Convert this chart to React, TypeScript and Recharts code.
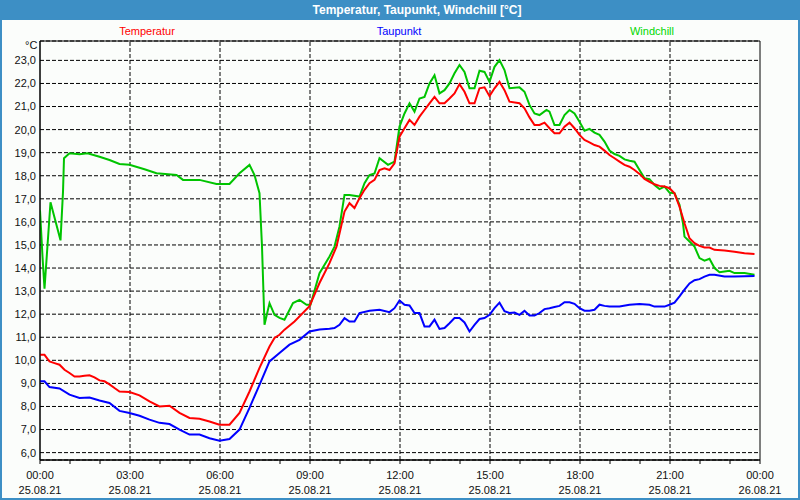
import React from 'react';
import { LineChart, Line, XAxis, YAxis, CartesianGrid, ReferenceLine, ReferenceArea } from 'recharts';

// time in minutes since 25.08.21 00:00
const tempTimes = [0, 9, 19, 29, 39, 49, 59, 69, 79, 89, 99, 109, 119, 129, 139, 149, 159, 179, 199, 219, 239, 259, 279, 299, 319, 339, 359, 379, 399, 419, 439, 459, 469, 479, 489, 509, 539, 559, 579, 593, 603, 609, 619, 629, 639, 649, 659, 669, 679, 689, 699, 709, 719, 729, 739, 749, 759, 769, 779, 789, 799, 809, 819, 829, 839, 849, 859, 869, 879, 889, 899, 909, 919, 929, 939, 959, 969, 979, 989, 999, 1009, 1019, 1029, 1039, 1049, 1059, 1069, 1079, 1089, 1099, 1109, 1119, 1129, 1139, 1149, 1159, 1169, 1179, 1189, 1199, 1209, 1219, 1229, 1239, 1249, 1259, 1269, 1279, 1289, 1299, 1309, 1319, 1329, 1339, 1349, 1369, 1389, 1409, 1429];
const tempValues = [10.24, 10.24, 9.95, 9.88, 9.81, 9.59, 9.45, 9.3, 9.3, 9.33, 9.35, 9.26, 9.13, 9.09, 8.96, 8.8, 8.65, 8.63, 8.48, 8.22, 8.0, 8.03, 7.72, 7.5, 7.47, 7.35, 7.21, 7.21, 7.72, 8.65, 9.67, 10.6, 10.97, 11.11, 11.33, 11.68, 12.35, 13.35, 14.21, 14.93, 15.87, 16.45, 16.81, 16.6, 17.03, 17.39, 17.68, 17.82, 18.25, 18.32, 18.25, 18.54, 19.69, 20.06, 20.42, 20.2, 20.56, 20.85, 21.14, 21.42, 21.14, 21.14, 21.35, 21.57, 21.97, 21.64, 21.14, 21.14, 21.79, 21.83, 21.45, 21.79, 22.07, 21.71, 21.21, 21.14, 20.92, 20.53, 20.2, 20.2, 20.3, 20.06, 19.84, 19.84, 20.13, 20.3, 20.06, 19.77, 19.55, 19.45, 19.33, 19.26, 19.09, 18.9, 18.76, 18.61, 18.47, 18.39, 18.25, 18.08, 17.86, 17.74, 17.63, 17.56, 17.53, 17.46, 17.24, 16.66, 15.94, 15.29, 15.08, 14.96, 14.89, 14.89, 14.79, 14.76, 14.71, 14.64, 14.61];

const dewTimes = [0, 9, 19, 39, 59, 79, 99, 119, 139, 159, 179, 199, 219, 239, 259, 279, 299, 319, 339, 359, 379, 399, 419, 439, 459, 479, 499, 519, 539, 559, 579, 589, 599, 609, 619, 629, 639, 659, 679, 699, 709, 719, 729, 739, 749, 759, 769, 779, 789, 799, 809, 819, 829, 839, 849, 859, 869, 879, 889, 899, 909, 919, 929, 939, 949, 959, 969, 979, 989, 999, 1009, 1019, 1029, 1039, 1049, 1059, 1069, 1079, 1089, 1099, 1109, 1119, 1129, 1139, 1159, 1179, 1199, 1219, 1229, 1249, 1259, 1269, 1279, 1289, 1299, 1309, 1319, 1329, 1339, 1349, 1369, 1389, 1429];
const dewValues = [9.09, 9.09, 8.84, 8.78, 8.51, 8.37, 8.39, 8.26, 8.15, 7.81, 7.72, 7.6, 7.43, 7.29, 7.24, 7.0, 6.78, 6.78, 6.62, 6.52, 6.59, 7.0, 7.94, 8.94, 9.95, 10.32, 10.68, 10.89, 11.25, 11.34, 11.37, 11.4, 11.54, 11.83, 11.68, 11.68, 12.05, 12.15, 12.19, 12.09, 12.26, 12.59, 12.41, 12.38, 12.05, 12.05, 11.47, 11.47, 11.76, 11.36, 11.4, 11.61, 11.83, 11.83, 11.64, 11.25, 11.54, 11.79, 11.83, 11.97, 12.26, 12.5, 12.13, 12.05, 12.07, 11.97, 12.15, 11.94, 11.94, 12.05, 12.22, 12.26, 12.31, 12.36, 12.52, 12.52, 12.45, 12.26, 12.15, 12.15, 12.19, 12.41, 12.36, 12.33, 12.33, 12.41, 12.44, 12.41, 12.33, 12.33, 12.41, 12.5, 12.77, 13.06, 13.33, 13.47, 13.52, 13.63, 13.71, 13.71, 13.63, 13.63, 13.66];

const chillTimes = [0, 5, 9, 21, 41, 46, 48, 59, 79, 95, 119, 139, 159, 179, 209, 233, 273, 286, 319, 353, 379, 399, 419, 429, 439, 444, 449, 459, 469, 479, 489, 506, 519, 533, 541, 559, 579, 589, 599, 609, 619, 639, 649, 659, 669, 679, 696, 709, 719, 729, 739, 749, 759, 769, 779, 789, 799, 809, 819, 829, 839, 849, 859, 869, 879, 889, 899, 909, 919, 929, 939, 959, 969, 979, 989, 999, 1013, 1019, 1029, 1039, 1049, 1059, 1069, 1079, 1089, 1099, 1109, 1119, 1129, 1139, 1149, 1159, 1169, 1179, 1189, 1199, 1209, 1219, 1229, 1239, 1249, 1259, 1269, 1279, 1286, 1289, 1299, 1309, 1319, 1329, 1339, 1349, 1359, 1369, 1379, 1389, 1409, 1429];
const chillValues = [16.5, 14.5, 13.1, 16.85, 15.2, 17.3, 18.76, 18.97, 18.93, 18.97, 18.82, 18.68, 18.51, 18.48, 18.28, 18.11, 18.03, 17.82, 17.82, 17.64, 17.64, 18.11, 18.47, 18.03, 17.24, 14.93, 11.54, 12.48, 11.97, 11.84, 11.76, 12.48, 12.62, 12.41, 12.41, 13.78, 14.5, 14.93, 15.8, 17.17, 17.17, 17.1, 17.68, 18.03, 18.1, 18.76, 18.47, 18.61, 20.13, 20.7, 21.14, 20.78, 21.35, 21.42, 22.0, 22.36, 21.57, 21.71, 22.0, 22.44, 22.8, 22.5, 21.79, 21.79, 22.55, 22.5, 22.07, 22.72, 23.01, 22.58, 21.79, 21.83, 21.64, 21.07, 20.7, 20.63, 20.85, 20.78, 20.2, 20.2, 20.63, 20.85, 20.7, 20.34, 19.95, 20.03, 19.87, 19.77, 19.48, 19.09, 18.94, 18.86, 18.71, 18.65, 18.61, 18.25, 17.89, 17.85, 17.6, 17.42, 17.53, 17.27, 17.24, 16.74, 15.94, 15.36, 15.15, 14.93, 14.43, 14.32, 14.4, 14.0, 13.82, 13.85, 13.88, 13.78, 13.78, 13.71];

const seriesNames = ['Temperatur', 'Taupunkt', 'Windchill'];
const lineColors = ['#ff0000', '#0000ff', '#00c400'];
const legendColors = ['#ff0000', '#0000ff', '#00d800'];

const hourTicks = [0, 60, 120, 180, 240, 300, 360, 420, 480, 540, 600, 660, 720, 780, 840, 900, 960, 1020, 1080, 1140, 1200, 1260, 1320, 1380, 1440];
const majorTicks = [0, 180, 360, 540, 720, 900, 1080, 1260, 1440];
const tickTimes = ['00:00', '03:00', '06:00', '09:00', '12:00', '15:00', '18:00', '21:00', '00:00'];
const tickDates = ['25.08.21', '25.08.21', '25.08.21', '25.08.21', '25.08.21', '25.08.21', '25.08.21', '25.08.21', '26.08.21'];
const gridLinesX = [180, 360, 540, 720, 900, 1080, 1260];
const yTicks = [6, 7, 8, 9, 10, 11, 12, 13, 14, 15, 16, 17, 18, 19, 20, 21, 22, 23];
const yDomain = [5.68, 23.84];

const zip = (ts: number[], vs: number[]) => ts.map((t, i) => ({ t, v: vs[i] }));
const tempData = zip(tempTimes, tempValues);
const dewData = zip(dewTimes, dewValues);
const chillData = zip(chillTimes, chillValues);

const FONT = '"Liberation Sans", Arial, sans-serif';

const XTick = (props: any) => {
  const { x, y, payload } = props;
  const i = majorTicks.indexOf(payload.value);
  if (i < 0) return null;
  return (
    <g>
      <text x={x} y={y + 12.5} textAnchor="middle" fontSize={11} fontFamily={FONT} fill="#111">{tickTimes[i]}</text>
      <text x={x} y={y + 27.5} textAnchor="middle" fontSize={11} fontFamily={FONT} fill="#111">{tickDates[i]}</text>
    </g>
  );
};

const legendX = [147, 399, 652];

export default function App() {
  return (
    <div style={{ position: 'absolute', left: 0, top: 0, width: 800, height: 500, background: '#3d8fc5', fontFamily: FONT, overflow: 'hidden' }}>
      <div style={{ position: 'absolute', left: 417, top: 3, transform: 'translateX(-50%)', color: '#fff', fontWeight: 'bold', fontSize: 12, whiteSpace: 'nowrap', lineHeight: '14px' }}>
        Temperatur, Taupunkt, Windchill [°C]
      </div>
      <div style={{ position: 'absolute', left: 2, top: 20, width: 796, height: 478, background: '#fbfdfb' }} />
      {seriesNames.map((n, i) => (
        <div key={n} style={{ position: 'absolute', left: legendX[i], top: 25, transform: 'translateX(-50%)', color: legendColors[i], fontSize: 11, lineHeight: '13px', whiteSpace: 'nowrap' }}>{n}</div>
      ))}
      <div style={{ position: 'absolute', left: 25, top: 39, color: '#111', fontSize: 11, lineHeight: '13px' }}>°C</div>
      <div style={{ position: 'absolute', left: 0, top: 0 }}>
        <LineChart width={800} height={500} margin={{ top: 41, right: 40, bottom: 0, left: 0 }}>
          <CartesianGrid vertical={false} stroke="#000" strokeDasharray="4 2" />
          {gridLinesX.map((m) => (
            <ReferenceLine key={m} x={m} stroke="#000" strokeDasharray="4 2" />
          ))}
          <XAxis
            dataKey="t"
            type="number"
            domain={[0, 1440]}
            ticks={hourTicks}
            interval={0}
            allowDataOverflow
            height={40}
            tickSize={4}
            tick={<XTick />}
            axisLine={{ stroke: '#000' }}
            tickLine={{ stroke: '#000' }}
          />
          <YAxis
            type="number"
            domain={yDomain}
            ticks={yTicks}
            interval={0}
            allowDataOverflow
            width={40}
            tickSize={4}
            tickMargin={0}
            tickLine={false}
            axisLine={{ stroke: '#000' }}
            tickFormatter={(v: number) => v.toFixed(1).replace('.', ',')}
            tick={{ fontSize: 11, fontFamily: FONT, fill: '#111' }}
          />
          <ReferenceArea x1={0} x2={1440} y1={yDomain[0]} y2={yDomain[1]} stroke="#000" fill="none" fillOpacity={0} />
          <Line data={chillData} dataKey="v" name={seriesNames[2]} stroke={lineColors[2]} strokeWidth={2} dot={false} type="linear" isAnimationActive={false} />
          <Line data={tempData} dataKey="v" name={seriesNames[0]} stroke={lineColors[0]} strokeWidth={2} dot={false} type="linear" isAnimationActive={false} />
          <Line data={dewData} dataKey="v" name={seriesNames[1]} stroke={lineColors[1]} strokeWidth={2} dot={false} type="linear" isAnimationActive={false} />
        </LineChart>
      </div>
    </div>
  );
}
